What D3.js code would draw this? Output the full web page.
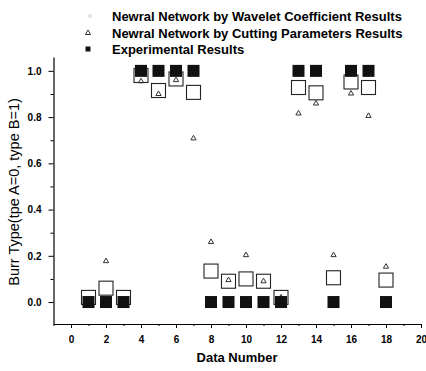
<!DOCTYPE html>
<html>
<head>
<meta charset="utf-8">
<script src="https://cdn.jsdelivr.net/npm/d3@7"></script>
<style>
  html, body { margin: 0; padding: 0; background: #fff; }
  svg { display: block; }
  text { font-family: "Liberation Sans", Arial, sans-serif; fill: #000; }
</style>
</head>
<body>
<svg id="chart" width="426" height="371"></svg>
<script>
// ---- data ----
const dataNumbers = [1,2,3,4,5,6,7,8,9,10,11,12,13,14,15,16,17,18];
const experimental = [0,0,0,1,1,1,1,0,0,0,0,0,1,1,0,1,1,0];
const waveletNN = [0.02,0.06,0.02,0.98,0.915,0.965,0.907,0.134,0.09,0.10,0.09,0.02,0.928,0.905,0.105,0.952,0.928,0.095];
const cuttingNN = [0.01,0.177,0.01,0.955,0.90,0.96,0.708,0.26,0.095,0.203,0.09,0.02,0.816,0.859,0.203,0.902,0.805,0.153];
const xTicks = [0,2,4,6,8,10,12,14,16,18,20];
const xMinor = [-1,1,3,5,7,9,11,13,15,17,19];
const yTicks = [0,0.2,0.4,0.6,0.8,1.0];
const yMinor = [0.1,0.3,0.5,0.7,0.9];
const legendLabels = [
  "Newral Network by Wavelet Coefficient Results",
  "Newral Network by Cutting Parameters Results",
  "Experimental Results"
];

const svg = d3.select("#chart");
const x = d3.scaleLinear().domain([-1, 20]).range([53.5, 421]);
const y = d3.scaleLinear().domain([-0.095, 1.06]).range([324, 57]);

// axes
const xAxis = svg.append("g").attr("transform", `translate(0,${y(-0.095)})`)
  .call(d3.axisBottom(x).tickValues(xTicks).tickSize(4).tickSizeOuter(0).tickPadding(8).tickFormat(d3.format("d")));
svg.append("g").attr("transform", `translate(0,${y(-0.095)})`)
  .call(d3.axisBottom(x).tickValues(xMinor).tickSize(2).tickSizeOuter(0).tickFormat(""))
  .call(g => g.select(".domain").remove());
const yAxis = svg.append("g").attr("transform", `translate(${x(-1)},0)`)
  .call(d3.axisLeft(y).tickValues(yTicks).tickSize(5).tickSizeOuter(0).tickPadding(7).tickFormat(d3.format(".1f")));
svg.append("g").attr("transform", `translate(${x(-1)},0)`)
  .call(d3.axisLeft(y).tickValues(yMinor).tickSize(3).tickSizeOuter(0).tickFormat(""))
  .call(g => g.select(".domain").remove());

svg.selectAll(".domain").attr("stroke", "#000").attr("stroke-width", 1.2);
svg.selectAll(".tick line").attr("stroke", "#000").attr("stroke-width", 1);
xAxis.selectAll("text").attr("font-size", 10).attr("font-weight", "bold").attr("font-family", "Liberation Sans, Arial, sans-serif");
yAxis.selectAll("text").attr("font-size", 10).attr("font-weight", "bold").attr("font-family", "Liberation Sans, Arial, sans-serif");

// axis titles
svg.append("text").attr("x", 237).attr("y", 362).attr("text-anchor", "middle")
  .attr("font-size", 13).attr("font-weight", "bold").text("Data Number");
svg.append("text").attr("transform", "translate(19,192) rotate(-90)").attr("text-anchor", "middle")
  .attr("font-size", 14.5).text("Burr Type(tpe A=0, type B=1)");

// open squares (wavelet NN)
const os = 14;
svg.append("g").selectAll("rect").data(dataNumbers).join("rect")
  .attr("x", (d,i) => x(d) - os/2).attr("y", (d,i) => y(waveletNN[i]) - os/2)
  .attr("width", os).attr("height", os)
  .attr("fill", "#fff").attr("stroke", "#222").attr("stroke-width", 1.1);

// small triangles (cutting parameters NN)
const tri = d3.symbol().type(d3.symbolTriangle).size(12);
svg.append("g").selectAll("path").data(dataNumbers).join("path")
  .attr("d", tri)
  .attr("transform", (d,i) => `translate(${x(d)},${y(cuttingNN[i])})`)
  .attr("fill", "none").attr("stroke", "#333").attr("stroke-width", 1);

// filled squares (experimental)
const fs = 12;
svg.append("g").selectAll("rect").data(dataNumbers).join("rect")
  .attr("x", (d,i) => x(d) - fs/2).attr("y", (d,i) => y(experimental[i]) - fs/2)
  .attr("width", fs).attr("height", fs)
  .attr("fill", "#111");

// legend
const legY = [16, 33, 49];
const lg = svg.append("g");
lg.append("rect").attr("x", 89).attr("y", legY[0]-1).attr("width", 2).attr("height", 2)
  .attr("fill", "none").attr("stroke", "#bbb").attr("stroke-width", 0.6);
lg.append("path").attr("d", d3.symbol().type(d3.symbolTriangle).size(12))
  .attr("transform", `translate(88,${legY[1]})`)
  .attr("fill", "none").attr("stroke", "#333").attr("stroke-width", 1);
lg.append("rect").attr("x", 85.5).attr("y", legY[2]-2.5).attr("width", 5).attr("height", 5).attr("fill", "#111");
lg.selectAll("text").data(legendLabels).join("text")
  .attr("x", 112).attr("y", (d,i) => legY[i] + 4.5)
  .attr("font-size", 13).attr("font-weight", "bold").text(d => d);
</script>
</body>
</html>
